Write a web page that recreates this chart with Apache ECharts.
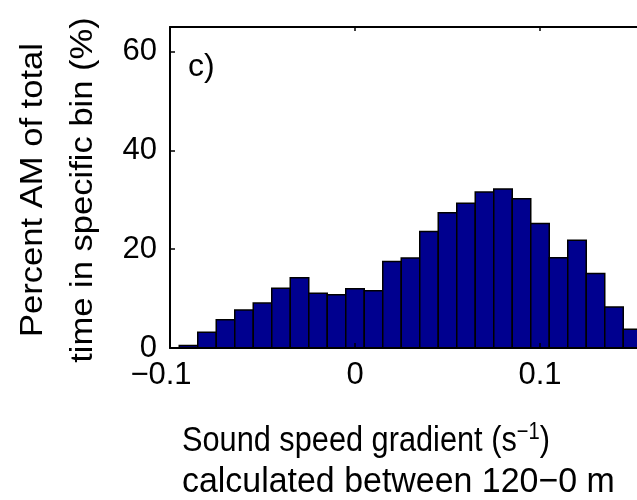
<!DOCTYPE html>
<html>
<head>
<meta charset="utf-8">
<script src="https://cdn.jsdelivr.net/npm/echarts@6/dist/echarts.min.js"></script>
<style>
  html, body { margin: 0; padding: 0; background: #ffffff; }
  #chart { width: 637px; height: 500px; }
</style>
</head>
<body>
<div id="chart"></div>
<script>
// ---- data ----
const binCenters = [-0.09, -0.08, -0.07, -0.06, -0.05, -0.04, -0.03, -0.02, -0.01, 0.00,
                     0.01, 0.02, 0.03, 0.04, 0.05, 0.06, 0.07, 0.08, 0.09, 0.10,
                     0.11, 0.12, 0.13, 0.14, 0.15];
const percentValues = [0.5, 3.2, 5.7, 7.7, 9.1, 12.1, 14.2, 11.1, 10.8, 12.0,
                       11.6, 17.5, 18.2, 23.6, 27.4, 29.3, 31.6, 32.2, 30.2, 25.2,
                       18.3, 21.8, 15.1, 8.3, 3.8];
const binWidth = 0.01;
const xTickLabels = ['\u22120.1', '0', '0.1', '0.2'];
const yTickLabels = ['0', '20', '40', '60'];
const panelLabel = 'c)';
const yTitleLines = ['Percent AM of total', 'time in specific bin (%)'];
const xTitleLine1 = ['Sound speed gradient (s', '\u22121', ')'];
const xTitleLine2 = 'calculated between 120\u22120 m';

const FONT = '"Liberation Sans", Arial, Helvetica, sans-serif';
const BAR_FILL = '#00008F';

const chart = echarts.init(document.getElementById('chart'), null, { renderer: 'canvas' });

function renderBar(params, api) {
  const x = api.value(0);
  const y = api.value(1);
  const p0 = api.coord([x - binWidth / 2, y]);
  const p1 = api.coord([x + binWidth / 2, 0]);
  return {
    type: 'rect',
    shape: { x: p0[0], y: p0[1], width: p1[0] - p0[0], height: p1[1] - p0[1] },
    style: { fill: BAR_FILL, stroke: '#000000', lineWidth: 1.5 }
  };
}

const tickLabelStyle = { color: '#000', fontFamily: FONT, fontSize: 31 };

const option = {
  backgroundColor: '#ffffff',
  animation: false,
  grid: { left: 170, top: 27, width: 555, height: 321, containLabel: false, outerBoundsMode: 'none' },
  xAxis: [
    {
      type: 'value', position: 'bottom', min: -0.1, max: 0.2, interval: 0.1, z: 10,
      axisLine: { show: true, onZero: false, lineStyle: { color: '#000', width: 2 } },
      axisTick: { show: true, inside: true, length: 5, lineStyle: { color: '#000', width: 1.5 } },
      axisLabel: {
        ...tickLabelStyle, margin: 12,
        formatter: (v, i) => (xTickLabels[i].charAt(0) === '\u2212' ? '{neg|' + xTickLabels[i] + '}' : xTickLabels[i]),
        rich: { neg: { ...tickLabelStyle, padding: [0, 18, 0, 0] } }
      },
      splitLine: { show: false }
    },
    {
      type: 'value', position: 'top', min: -0.1, max: 0.2, interval: 0.1, z: 10,
      axisLine: { show: true, onZero: false, lineStyle: { color: '#000', width: 2 } },
      axisTick: { show: true, inside: true, length: 4, lineStyle: { color: '#000', width: 1.5 } },
      axisLabel: { show: false },
      splitLine: { show: false }
    }
  ],
  yAxis: [
    {
      type: 'value', position: 'left', min: 0, max: 65, interval: 20, z: 10,
      axisLine: { show: true, onZero: false, lineStyle: { color: '#000', width: 2 } },
      axisTick: { show: true, inside: true, length: 5, lineStyle: { color: '#000', width: 1.5 } },
      axisLabel: {
        ...tickLabelStyle, margin: 13, showMaxLabel: false,
        formatter: (v, i) => yTickLabels[i]
      },
      splitLine: { show: false }
    }
  ],
  graphic: [
    {
      type: 'text', left: 188, top: 51,
      style: { text: panelLabel, fill: '#000', font: '32px ' + FONT }
    },
    {
      type: 'text', x: 58, y: 190, rotation: Math.PI / 2, scaleX: 1.08,
      style: {
        text: yTitleLines.join('\n'), fill: '#000', font: '32px ' + FONT,
        align: 'center', verticalAlign: 'middle', lineHeight: 50
      }
    },
    {
      type: 'text', x: 182, y: 441, scaleX: 0.96, scaleY: 1.12,
      style: {
        text: xTitleLine1[0] + '{sup|' + xTitleLine1[1] + '}' + xTitleLine1[2],
        fill: '#000', font: '32px ' + FONT, align: 'left', verticalAlign: 'middle',
        rich: { sup: { fontSize: 21, fontFamily: FONT, fill: '#000', padding: [0, 0, 16, 0] } }
      }
    },
    {
      type: 'text', x: 182, y: 482, scaleX: 1.06, scaleY: 1.12,
      style: {
        text: xTitleLine2, fill: '#000', font: '32px ' + FONT,
        align: 'left', verticalAlign: 'middle'
      }
    }
  ],
  series: [
    {
      type: 'custom',
      renderItem: renderBar,
      clip: true,
      data: binCenters.map((c, i) => [c, percentValues[i]]),
      encode: { x: 0, y: 1 }
    }
  ]
};

chart.setOption(option);
</script>
</body>
</html>
